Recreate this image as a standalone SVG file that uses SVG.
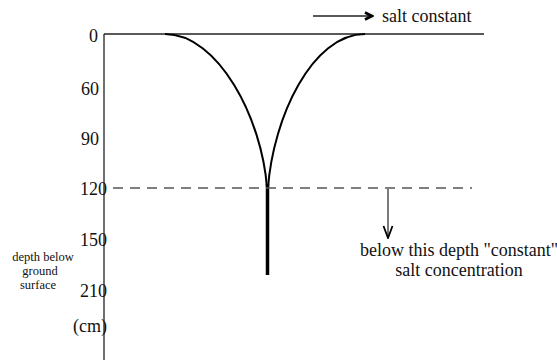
<svg xmlns="http://www.w3.org/2000/svg" width="557" height="360" viewBox="0 0 557 360">
<style>
text{font-family:"Liberation Serif","Times New Roman",serif;fill:#111}
.lbl{font-size:18px}
.small{font-size:12.5px}
.ax{stroke:#222;stroke-width:1.3;fill:none}
.curve{stroke:#000;stroke-width:2;fill:none}
</style>
<defs>
<marker id="ah1" markerWidth="10" markerHeight="10" refX="8" refY="5" orient="auto" markerUnits="userSpaceOnUse">
<path d="M1,1.5 L8,5 L1,8.5" fill="none" stroke="#000" stroke-width="2.6"/>
</marker>
<marker id="ah2" markerWidth="12" markerHeight="14" refX="6" refY="13" orient="0" markerUnits="userSpaceOnUse">
<path d="M1.5,1 L6,13 L10.5,1" fill="none" stroke="#000" stroke-width="1.8"/>
</marker>
</defs>
<g id="axes">
<line class="ax" x1="104" y1="34" x2="104" y2="360"/>
<line class="ax" x1="104" y1="34" x2="484" y2="34"/>
</g>
<g id="ticks">
<text class="lbl" x="89" y="42">0</text>
<text class="lbl" x="81" y="95">60</text>
<text class="lbl" x="81" y="145">90</text>
<text class="lbl" x="80" y="195">120</text>
<text class="lbl" x="80" y="246">150</text>
<text class="lbl" x="80" y="297">210</text>
<text class="lbl" x="73" y="332">(cm)</text>
</g>
<g id="ylabel">
<text class="small" x="43" y="261" text-anchor="middle">depth below</text>
<text class="small" x="40" y="275" text-anchor="middle">ground</text>
<text class="small" x="38" y="289" text-anchor="middle">surface</text>
</g>
<g id="profile">
<path class="curve" d="M165,34 C218,34 262,118 267,188"/>
<path class="curve" d="M365,34 C312,34 273,118 268,188"/>
<line x1="267.5" y1="184" x2="267.5" y2="275" stroke="#000" stroke-width="3.5"/>
</g>
<g id="connectors">
<line x1="113" y1="188" x2="472" y2="188" stroke="#555" stroke-width="1.5" stroke-dasharray="10 7"/>
<line x1="313" y1="16" x2="372" y2="16" stroke="#222" stroke-width="1.3" marker-end="url(#ah1)"/>
<line x1="388" y1="189" x2="388" y2="238" stroke="#222" stroke-width="1.2" marker-end="url(#ah2)"/>
</g>
<g id="notes">
<text class="lbl" x="382" y="22">salt constant</text>
<text class="lbl" x="459" y="256" text-anchor="middle">below this depth "constant"</text>
<text class="lbl" x="459" y="276" text-anchor="middle">salt concentration</text>
</g>
</svg>
